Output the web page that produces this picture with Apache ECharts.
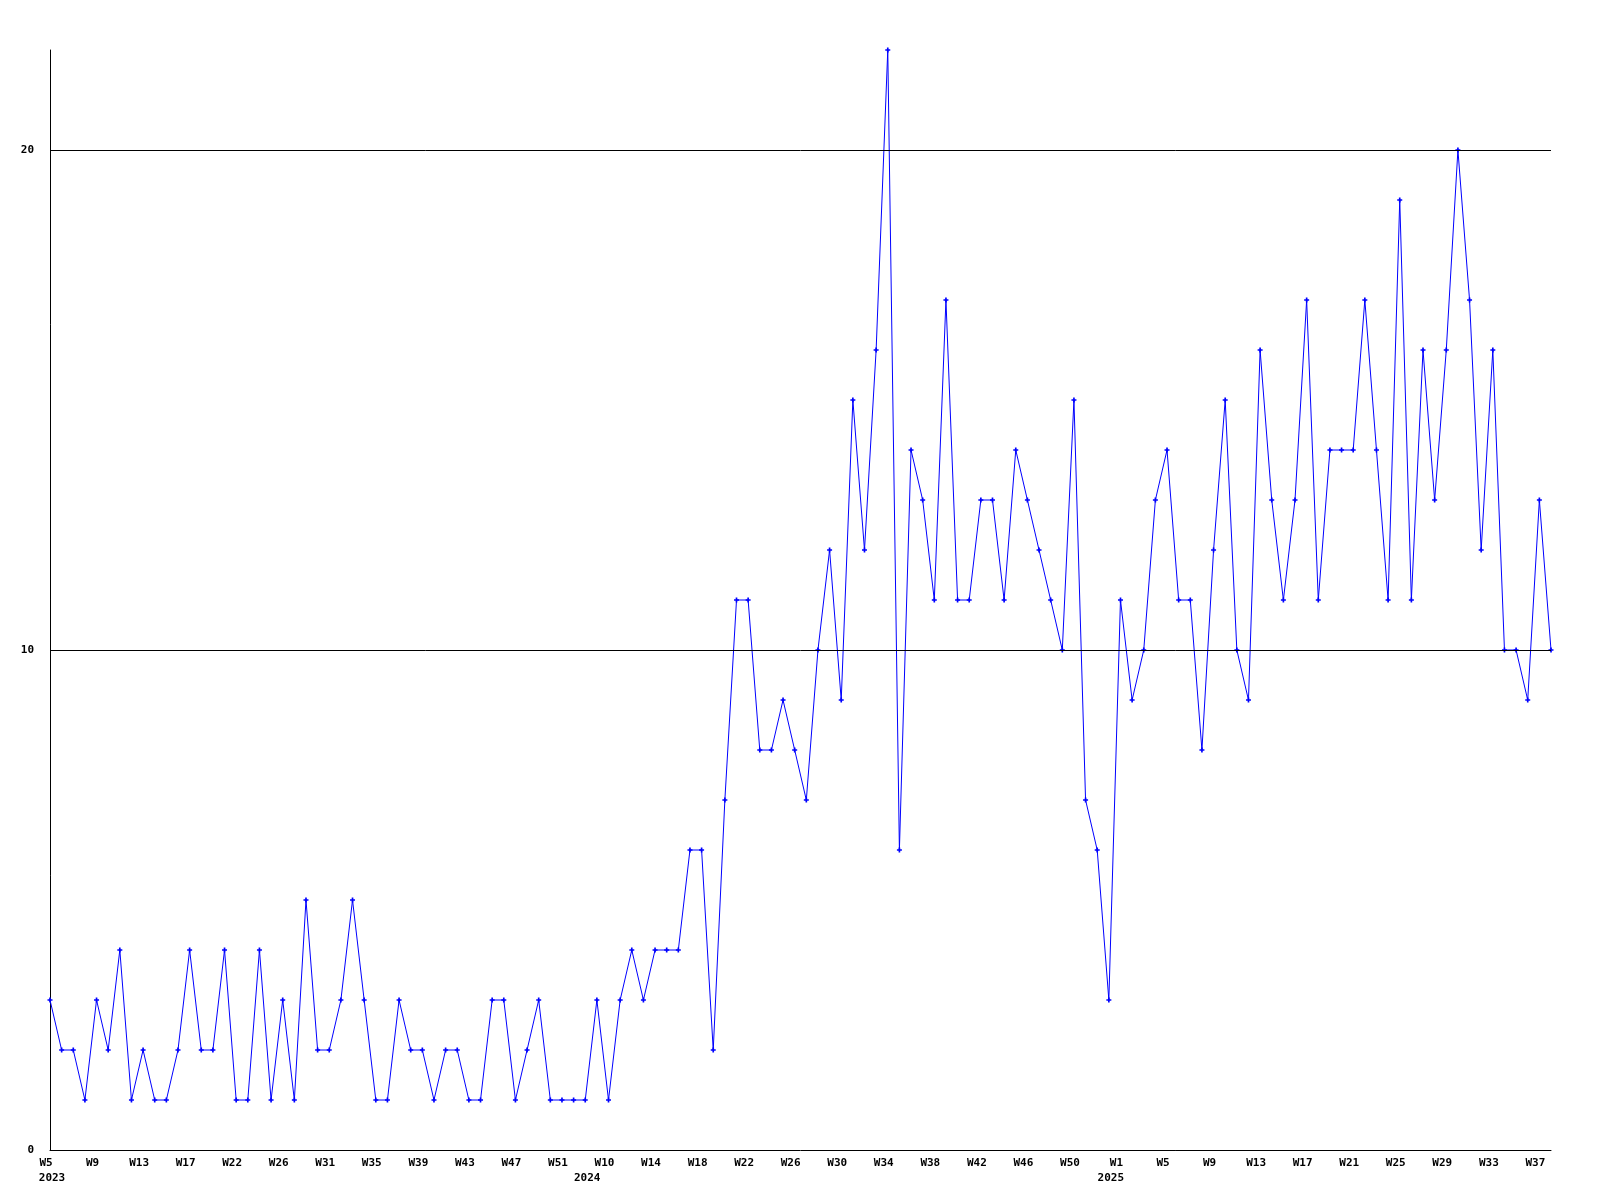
<!DOCTYPE html>
<html>
<head>
<meta charset="utf-8">
<script src="https://cdn.jsdelivr.net/npm/echarts@6/dist/echarts.min.js"></script>
<style>
html,body{margin:0;padding:0;background:#fff;}
#chart{width:1600px;height:1200px;}
</style>
</head>
<body>
<div id="chart"></div>
<script>
// Week categories (one per data point)
const weeks = [
  // 2023
  'W5','W6','W7','W8','W9','W10','W11','W12','W13','W14','W15','W16','W17',
  'W18','W20','W21','W22','W23','W24','W25','W26','W27','W29','W30','W31',
  'W32','W33','W34','W35','W36','W37','W38','W39','W40','W41','W42','W43',
  'W44','W45','W46','W47','W48','W49','W50','W51','W52',
  // 2024
  'W8','W9','W10','W11','W12','W13','W14','W15','W16','W17','W18','W19','W20',
  'W21','W22','W23','W24','W25','W26','W27','W28','W29','W30','W31','W32','W33',
  'W34','W35','W36','W37','W38','W39','W40','W41','W42','W43','W44','W45','W46',
  'W47','W48','W49','W50','W51','W52',
  // 2025
  'W0','W1','W2','W3','W4','W5','W6','W7','W8','W9','W10','W11','W12','W13',
  'W14','W15','W16','W17','W18','W19','W20','W21','W22','W23','W24','W25','W26',
  'W27','W28','W29','W30','W31','W32','W33','W34','W35','W36','W37','W38'
];

// Year labels, placed at the first week of each year
const yearStarts = {0: '2023', 46: '2024', 91: '2025'};

// Weekly counts
const values = [
  3,2,2,1,3,2,4,1,2,1,1,2,4,2,2,4,1,1,4,1,3,1,5,2,2,3,5,3,1,1,3,2,2,1,2,
  2,1,1,3,3,1,2,3,1,1,1,1,3,1,3,4,3,4,4,4,6,6,2,
  7,11,11,8,8,9,8,7,10,12,
  9,15,12,16,22,6,14,13,11,17,11,11,13,13,11,14,13,12,11,10,15,
  7,6,3,11,9,10,13,14,11,11,8,12,15,10,9,16,13,11,13,17,11,14,
  14,14,17,14,11,19,11,16,13,16,20,17,12,16,10,10,9,13,10
];

// Y tick values shown
const yTicks = [0, 10, 20];
const gridLines = [10, 20];

const chart = echarts.init(document.getElementById('chart'), null, {renderer: 'canvas'});
const font = {fontFamily: 'DejaVu Sans Mono', fontWeight: 'bold', fontSize: 11, color: '#000'};
const plusPath = 'path://M2,0 L4,0 L4,2 L6,2 L6,4 L4,4 L4,6 L2,6 L2,4 L0,4 L0,2 L2,2 Z';

chart.setOption({
  animation: false,
  backgroundColor: '#ffffff',
  grid: {left: 50, right: 49, top: 50, bottom: 50, containLabel: false},
  xAxis: {
    type: 'category',
    data: weeks,
    boundaryGap: false,
    axisLine: {show: true, lineStyle: {color: '#000', width: 1}},
    axisTick: {show: false},
    splitLine: {show: false},
    axisLabel: Object.assign({}, font, {
      margin: 6,
      lineHeight: 15,
      interval: function (i) { return i % 4 === 0 || yearStarts[i] !== undefined; },
      formatter: function (v, i) {
        const w = (i % 4 === 0) ? '{w|' + v + '}' : '';
        return yearStarts[i] !== undefined ? (w + '\n{y|' + yearStarts[i] + '}') : w;
      },
      rich: {
        w: Object.assign({}, font, {padding: [0, 8, 0, 0], lineHeight: 15}),
        y: Object.assign({}, font, {padding: [0, 0, 0, 4], lineHeight: 15})
      }
    })
  },
  yAxis: {
    type: 'value',
    min: 0,
    max: 22,
    interval: 10,
    axisLine: {show: true, lineStyle: {color: '#000', width: 1}},
    axisTick: {show: false},
    splitLine: {show: false},
    axisLabel: Object.assign({}, font, {
      margin: 16,
      formatter: function (v) { return yTicks.indexOf(v) >= 0 ? String(v) : ''; }
    })
  },
  series: [{
    type: 'line',
    data: values,
    symbol: plusPath,
    symbolSize: 5,
    showAllSymbol: true,
    lineStyle: {color: '#0000ff', width: 1},
    itemStyle: {color: '#0000ff'},
    markLine: {
      silent: true,
      symbol: ['none', 'none'],
      label: {show: false},
      lineStyle: {color: '#000', width: 1, type: 'solid'},
      data: gridLines.map(v => ({yAxis: v}))
    },
    z: 3
  }]
});
</script>
</body>
</html>
